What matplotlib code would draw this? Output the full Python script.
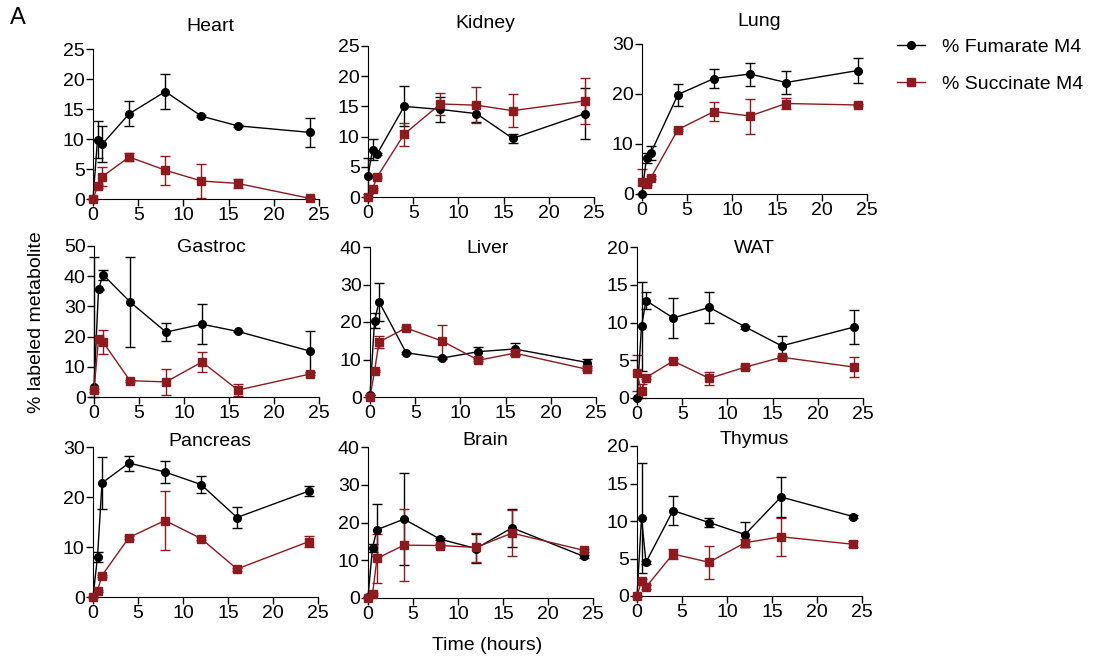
import numpy as np
import matplotlib
matplotlib.use("Agg")
import matplotlib.pyplot as plt

plt.rcParams['font.family'] = ['Liberation Sans', 'DejaVu Sans']

# time points (hours)
t = [0, 0.5, 1, 4, 8, 12, 16, 24]

tissues = ["Heart", "Kidney", "Lung", "Gastroc", "Liver", "WAT",
           "Pancreas", "Brain", "Thymus"]

# % Fumarate M4 (mean, error)
fum = {
    "Heart":    [0, 9.9, 9.1, 14.2, 17.9, 13.8, 12.2, 11.1],
    "Kidney":   [3.5, 7.85, 7.1, 15.0, 14.5, 13.8, 9.7, 13.8],
    "Lung":     [0, 7.3, 8.3, 19.9, 23.1, 24.0, 22.3, 24.7],
    "Gastroc":  [3.3, 35.6, 40.5, 31.5, 21.5, 24.1, 21.7, 15.2],
    "Liver":    [0.5, 20.3, 25.4, 11.8, 10.4, 12.1, 12.8, 9.2],
    "WAT":      [0, 9.5, 12.9, 10.6, 12.0, 9.4, 6.9, 9.4],
    "Pancreas": [0, 8.0, 22.8, 26.8, 25.0, 22.5, 15.9, 21.2],
    "Brain":    [0.3, 13.3, 18.1, 20.9, 15.6, 13.1, 18.6, 11.0],
    "Thymus":   [0, 10.4, 4.5, 11.4, 9.8, 8.2, 13.2, 10.6],
}
fum_err = {
    "Heart":    [0, 3.1, 3.0, 2.1, 2.9, 0.2, 0.2, 2.4],
    "Kidney":   [3.0, 1.7, 0.2, 3.3, 2.0, 1.4, 0.7, 4.2],
    "Lung":     [0, 1.0, 1.4, 2.2, 1.9, 2.3, 2.3, 2.5],
    "Gastroc":  [43.0, 0.3, 1.7, 15.0, 3.1, 6.7, 0.3, 6.8],
    "Liver":    [0, 2.0, 5.1, 0.3, 0.3, 1.3, 1.7, 0.9],
    "WAT":      [0, 5.9, 1.1, 2.7, 2.1, 0.2, 1.3, 2.2],
    "Pancreas": [0, 1.0, 5.2, 1.5, 2.2, 1.7, 2.1, 1.0],
    "Brain":    [0, 1.1, 6.9, 12.2, 0.3, 3.8, 5.0, 0.3],
    "Thymus":   [0, 7.3, 0.2, 1.9, 0.6, 1.7, 2.7, 0.2],
}

# % Succinate M4 (mean, error)
suc = {
    "Heart":    [0, 2.1, 3.7, 7.0, 4.8, 3.0, 2.6, 0.1],
    "Kidney":   [0, 1.3, 3.3, 10.4, 15.4, 15.2, 14.3, 15.9],
    "Lung":     [2.5, 2.1, 3.3, 12.9, 16.5, 15.6, 18.1, 17.8],
    "Gastroc":  [2.2, 19.1, 18.2, 5.4, 5.0, 11.6, 2.3, 7.6],
    "Liver":    [0, 6.9, 14.7, 18.4, 14.9, 9.8, 11.7, 7.4],
    "WAT":      [3.3, 0.9, 2.7, 4.9, 2.6, 4.1, 5.4, 4.1],
    "Pancreas": [0, 1.3, 4.3, 11.9, 15.3, 11.7, 5.6, 11.1],
    "Brain":    [0, 1.1, 10.5, 14.0, 13.9, 13.4, 17.2, 12.6],
    "Thymus":   [0, 2.0, 1.2, 5.6, 4.5, 7.1, 7.9, 6.9],
}
suc_err = {
    "Heart":    [0, 0.3, 1.6, 0.7, 2.4, 2.9, 0.7, 0],
    "Kidney":   [0, 0.2, 0.2, 1.9, 1.9, 3.0, 2.7, 3.8],
    "Lung":     [2.5, 0.2, 0.3, 0.2, 1.9, 3.5, 1.2, 0.2],
    "Gastroc":  [0.5, 0.3, 4.0, 0.3, 4.4, 3.3, 2.1, 0.3],
    "Liver":    [0, 0.3, 1.6, 0.2, 4.4, 0.3, 0.6, 0.3],
    "WAT":      [2.4, 0.9, 0.2, 0.2, 0.9, 0.2, 0.2, 1.3],
    "Pancreas": [0, 0.2, 0.2, 0.3, 5.9, 0.3, 0.3, 1.1],
    "Brain":    [0, 0.3, 6.4, 9.6, 0.3, 3.9, 6.2, 0.3],
    "Thymus":   [0, 0.3, 0.3, 0.7, 2.2, 0.5, 2.5, 0.4],
}

ymax = {"Heart": 25, "Kidney": 25, "Lung": 30, "Gastroc": 50, "Liver": 40,
        "WAT": 20, "Pancreas": 30, "Brain": 40, "Thymus": 20}
ystep = {"Heart": 5, "Kidney": 5, "Lung": 10, "Gastroc": 10, "Liver": 10,
         "WAT": 5, "Pancreas": 10, "Brain": 10, "Thymus": 5}

# panel boxes in pixels: x at 0, x at 25, y bottom, y top
boxes = {
    "Heart":    (93, 319, 199, 49),
    "Kidney":   (368, 594, 197, 46),
    "Lung":     (642, 867, 194, 44),
    "Gastroc":  (94, 319, 397, 246),
    "Liver":    (370, 596, 397, 247),
    "WAT":      (637, 863, 398, 247),
    "Pancreas": (93, 318, 597, 447),
    "Brain":    (368, 593, 598, 447),
    "Thymus":   (637, 862, 596, 446),
}
title_y = [1.15, 1.15, 1.15, 0.99, 0.99, 0.99, 1.04, 1.04, 1.04]

W, H = 1094, 661
red = "#8c1a1f"

fig = plt.figure(figsize=(W / 100, H / 100), dpi=100)

for i, name in enumerate(tissues):
    x0, x1, yb, yt = boxes[name]
    ax = fig.add_axes([x0 / W, 1 - yb / H, (x1 - x0) / W, (yb - yt) / H])
    for vals, errs, col, mk, ms in [(fum, fum_err, "black", "o", 5.5),
                                    (suc, suc_err, red, "s", 5.5)]:
        y = np.array(vals[name])
        e = np.array(errs[name])
        lo = np.minimum(e, y)
        ax.plot(t, y, color=col, lw=1, marker=mk, ms=ms, clip_on=False, zorder=3)
        ax.errorbar(t, y, yerr=[lo, e], fmt="none", ecolor=col, elinewidth=1,
                    capsize=3.5, capthick=1, clip_on=False, zorder=2)
    ax.set_xlim(0, 25)
    ax.set_ylim(0, ymax[name])
    ax.set_xticks(range(0, 26, 5))
    ax.set_yticks(np.arange(0, ymax[name] + 1, ystep[name]))
    ax.spines["top"].set_visible(False)
    ax.spines["right"].set_visible(False)
    ax.tick_params(labelsize=14, length=5, width=1, pad=1)
    ax.text(0.52, title_y[i], name, transform=ax.transAxes, ha="center",
            va="center", fontsize=14)

fig.text(18 / W, 1 - 18 / H, "A", fontsize=17, ha="center", va="center")
fig.text(37 / W, 1 - 322 / H, "% labeled metabolite", rotation=90,
         fontsize=14, ha="center", va="center")
fig.text(487 / W, 1 - 645 / H, "Time (hours)", fontsize=14,
         ha="center", va="center")

h1, = plt.plot([], [], color="black", lw=1, marker="o", ms=5.5)
h2, = plt.plot([], [], color=red, lw=1, marker="s", ms=5.5)
fig.legend([h1, h2], ["% Fumarate M4", "% Succinate M4"], loc="upper left",
           bbox_to_anchor=(897 / W, 1 - 38 / H), frameon=False, fontsize=14,
           handlelength=1.45, labelspacing=1.0, handletextpad=0.85,
           borderpad=0, borderaxespad=0)

fig.savefig("out.png", dpi=100)
